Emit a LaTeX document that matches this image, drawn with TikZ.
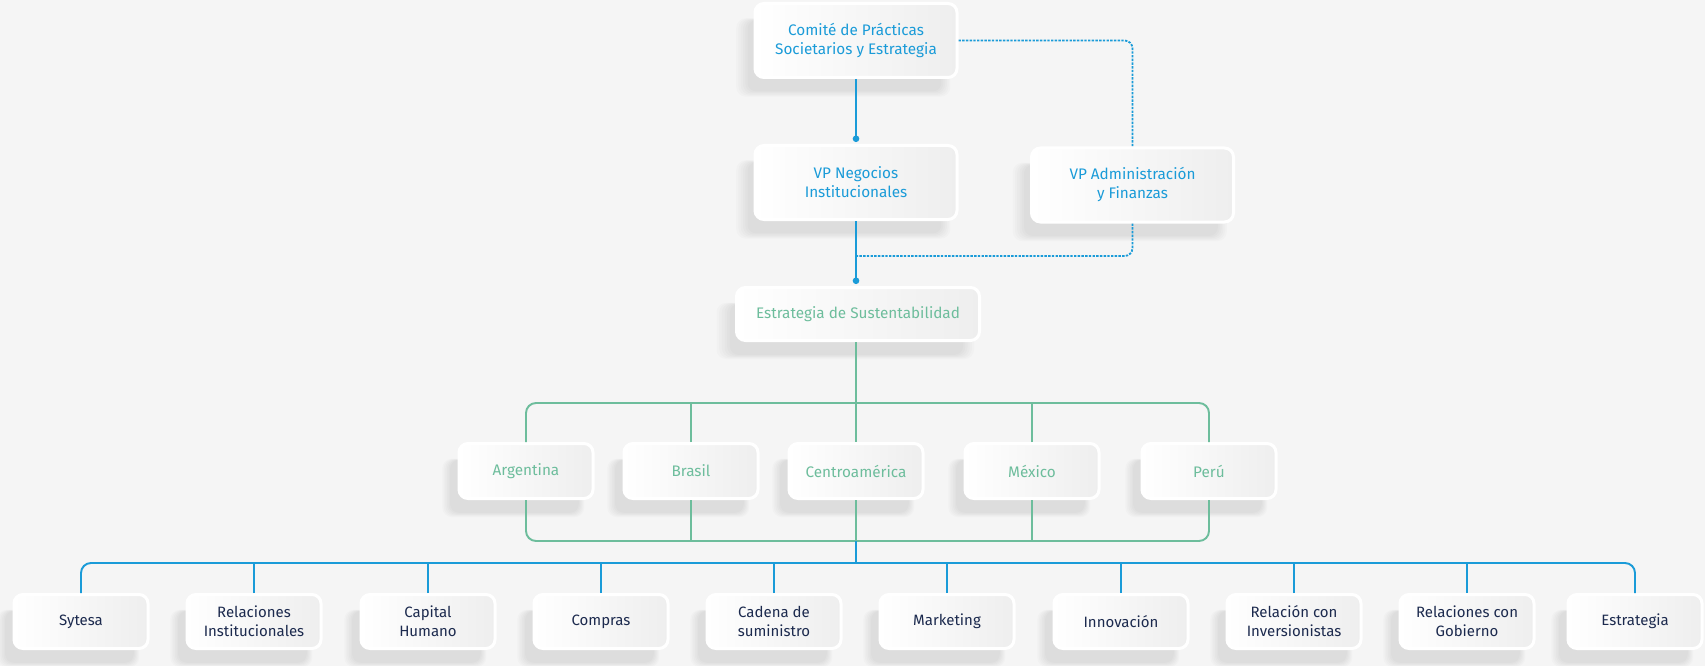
\documentclass[tikz,border=0pt]{standalone}
\usepackage{fontspec}
\setmainfont{Fira Sans}
\usetikzlibrary{arrows.meta}
\usetikzlibrary{shadows}
\definecolor{bgcol}{HTML}{F5F5F5}
\definecolor{boxgray}{HTML}{EEEEEE}
\definecolor{skyblue}{HTML}{1A9BD8}
\definecolor{mint}{HTML}{6DBD9C}
\definecolor{navy}{HTML}{1C2A4E}
\begin{document}
\begin{tikzpicture}[x=1pt,y=-1pt,
  box/.style={draw=white, line width=3pt, rounded corners=9pt,
    left color=white, right color=boxgray, inner sep=0pt, align=center,
    font=\fontsize{15.3}{19}\selectfont,
    general shadow={shadow xshift=-12pt, shadow yshift=-16pt, fill=black, opacity=.015, shadow scale=1.06},
    general shadow={shadow xshift=-12pt, shadow yshift=-16pt, fill=black, opacity=.015, shadow scale=1.04},
    general shadow={shadow xshift=-12pt, shadow yshift=-16pt, fill=black, opacity=.015, shadow scale=1.02},
    general shadow={shadow xshift=-12pt, shadow yshift=-16pt, fill=black, opacity=.015},
    general shadow={shadow xshift=-12pt, shadow yshift=-16pt, fill=black, opacity=.015, shadow scale=.98},
    general shadow={shadow xshift=-12pt, shadow yshift=-16pt, fill=black, opacity=.015, shadow scale=.96}},
  topbox/.style={box, minimum width=202pt, minimum height=74pt, text=skyblue},
  countrybox/.style={box, minimum width=134pt, minimum height=55pt, text=mint},
  unitbox/.style={box, minimum width=134pt, minimum height=54pt, text=navy, font=\fontsize{15}{19}\selectfont},
  blueline/.style={draw=skyblue, line width=1.9pt},
  greenline/.style={draw=mint, line width=1.9pt},
  dotline/.style={draw=skyblue, line width=1.8pt, dash pattern=on 2.4pt off 1.3pt, rounded corners=8pt},
  dotend/.style={-{Circle[length=6.5pt, width=6.5pt]}, shorten >=2pt}]
  \path[fill=bgcol, use as bounding box] (0,0) rectangle (1705,666);
  \node (comite) at (856,40.5) [topbox] {Comité de Prácticas\\Societarios y Estrategia};
  \node (vpneg) at (856,182.5) [topbox] {VP Negocios\\Institucionales};
  \node (vpadm) at (1132.5,185) [topbox] {VP Administración\\y Finanzas};
  \node (sust) at (858,314) [box, minimum width=243pt, minimum height=53pt, text=mint] {Estrategia de Sustentabilidad};
  \node (arg) at (526,471) [countrybox] {Argentina};
  \node (bra) at (691,471) [countrybox] {Brasil};
  \node (cam) at (856,471) [countrybox] {Centroamérica};
  \node (mex) at (1032,471) [countrybox] {México};
  \node (per) at (1209,471) [countrybox] {Perú};
  \node (sytesa) at (81,621.5) [unitbox] {Sytesa};
  \node (relinst) at (254,621.5) [unitbox] {Relaciones\\Institucionales};
  \node (capital) at (428,621.5) [unitbox] {Capital\\Humano};
  \node (compras) at (601,621.5) [unitbox] {Compras};
  \node (cadena) at (774,621.5) [unitbox] {Cadena de\\suministro};
  \node (marketing) at (947,621.5) [unitbox] {Marketing};
  \node (innov) at (1121,621.5) [unitbox] {Innovación};
  \node (relinv) at (1294,621.5) [unitbox] {Relación con\\Inversionistas};
  \node (relgob) at (1467,621.5) [unitbox] {Relaciones con\\Gobierno};
  \node (estr) at (1635,621.5) [unitbox] {Estrategia};
  \coordinate (dotjoin) at (856,256);
  \coordinate (gtop) at (856,403);
  \coordinate (gbot) at (856,541);
  \coordinate (bbus) at (856,563);
  \draw[blueline, dotend] (comite.south) -- (vpneg.north);
  \draw[blueline, dotend] (vpneg.south) -- (vpneg.south |- sust.north);
  \draw[dotline] (comite.east) -| (vpadm.north);
  \draw[dotline] (vpadm.south) |- (dotjoin);
  \draw[greenline] (sust.south -| cam.north) -- (cam.north);
  \draw[greenline, rounded corners=10pt] (arg.north) |- (gtop) -| (per.north);
  \draw[greenline] (bra.north) -- (bra.north |- gtop);
  \draw[greenline] (mex.north) -- (mex.north |- gtop);
  \draw[greenline, rounded corners=10pt] (arg.south) |- (gbot) -| (per.south);
  \draw[greenline] (bra.south) -- (bra.south |- gbot);
  \draw[greenline] (cam.south) -- (gbot);
  \draw[greenline] (mex.south) -- (mex.south |- gbot);
  \draw[blueline] (gbot) -- (bbus);
  \draw[blueline, rounded corners=10pt] (sytesa.north) |- (bbus) -| (estr.north);
  \draw[blueline] (relinst.north) -- (relinst.north |- bbus);
  \draw[blueline] (capital.north) -- (capital.north |- bbus);
  \draw[blueline] (compras.north) -- (compras.north |- bbus);
  \draw[blueline] (cadena.north) -- (cadena.north |- bbus);
  \draw[blueline] (marketing.north) -- (marketing.north |- bbus);
  \draw[blueline] (innov.north) -- (innov.north |- bbus);
  \draw[blueline] (relinv.north) -- (relinv.north |- bbus);
  \draw[blueline] (relgob.north) -- (relgob.north |- bbus);
\end{tikzpicture}
\end{document}
